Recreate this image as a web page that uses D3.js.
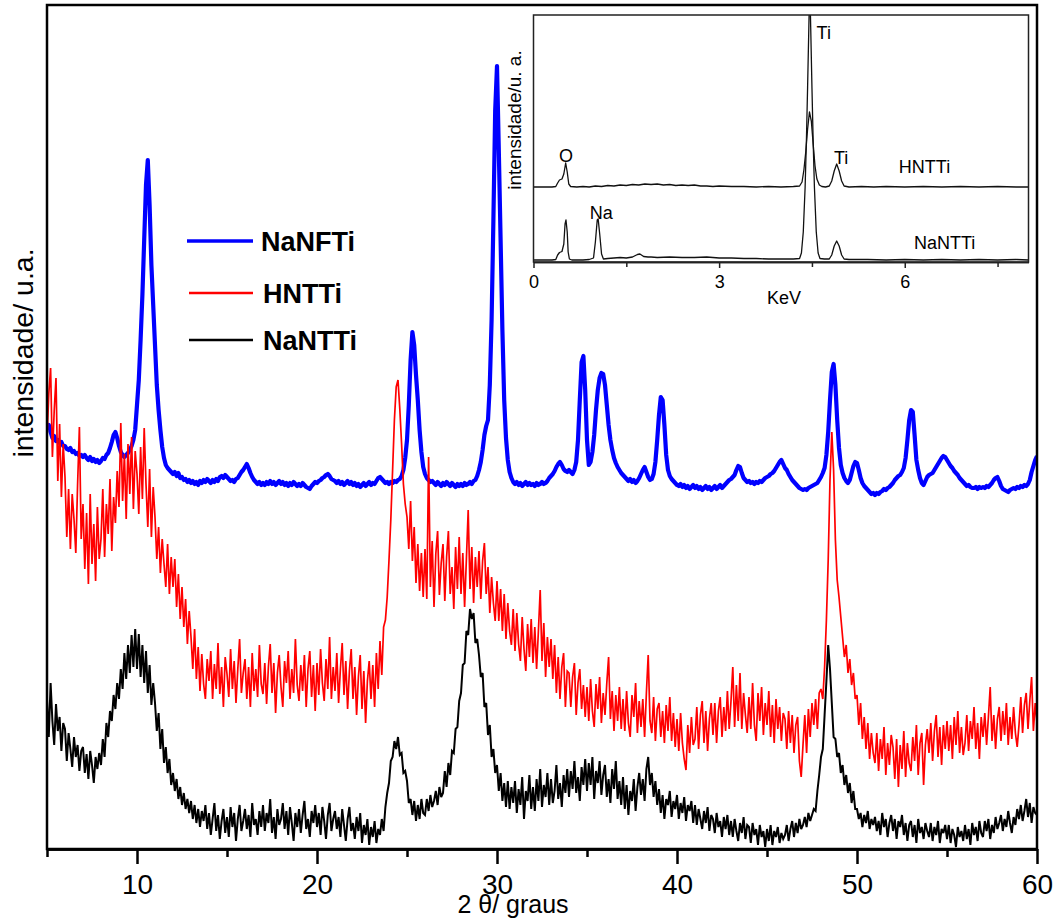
<!DOCTYPE html>
<html>
<head>
<meta charset="utf-8">
<script src="https://cdn.jsdelivr.net/npm/d3@7"></script>
<style>
  body { margin: 0; background: #fff; }
  svg { display: block; }
  text { font-family: "Liberation Sans", Arial, Helvetica, sans-serif; fill: #000; }
</style>
</head>
<body>
<svg id="chart" width="1055" height="919"></svg>
<script>
// ---------------- XRD patterns: 2θ from 5° to 60°, 0.1° step ----------------
const thetaStart = 5;
const thetaStep = 0.1;

// NaNFTi (blue), intensity in arbitrary units
const naNFTi = [
  419,424,417,411,413,408,409,406,407,403,
  403,400,399,401,397,398,395,396,393,394,
  392,394,391,389,392,388,390,387,389,386,
  388,391,390,394,396,401,407,414,417,411,
  403,397,394,392,394,396,399,403,409,419,
  444,469,509,554,609,664,689,644,584,544,
  504,464,439,419,402,391,384,381,379,377,
  375,377,373,376,371,372,369,370,367,369,
  366,368,365,367,364,368,366,369,367,370,
  368,366,369,367,370,368,372,373,371,374,
  372,370,368,369,367,370,371,374,377,379,
  382,385,381,376,372,369,367,365,367,364,
  366,364,367,365,368,365,367,364,366,368,
  365,367,364,366,363,366,364,367,365,363,
  365,363,366,364,362,361,360,363,365,367,
  366,368,369,371,372,374,375,373,370,369,
  368,366,368,365,367,364,366,368,365,367,
  364,366,363,365,362,364,366,363,365,367,
  364,366,365,368,371,372,370,368,366,367,
  365,367,366,368,367,369,370,373,379,391,
  409,444,489,517,504,474,449,419,397,382,
  375,371,369,367,368,366,364,367,365,363,
  366,364,367,365,363,366,364,362,365,363,
  365,363,366,364,365,367,365,368,369,373,
  379,387,399,414,423,429,464,529,629,739,
  783,699,609,519,449,411,389,377,371,367,
  365,367,364,366,363,365,367,364,366,364,
  365,363,366,364,365,367,365,366,368,371,
  373,375,378,382,385,387,384,380,378,377,
  379,377,375,379,387,409,449,487,493,459,
  409,384,387,397,414,439,459,471,476,475,
  464,444,424,409,399,391,386,382,379,376,
  374,372,370,368,370,367,369,366,368,371,
  375,379,382,377,372,369,370,375,387,409,
  434,452,449,424,394,379,373,370,368,366,
  364,363,365,362,364,361,363,360,362,364,
  361,363,360,362,359,361,363,360,362,359,
  361,363,360,362,364,361,363,365,367,369,
  370,372,374,379,383,382,376,371,369,367,
  368,366,367,365,367,366,368,367,369,371,
  372,373,375,376,378,381,384,387,389,385,
  381,379,375,372,369,367,365,363,361,360,
  359,360,359,361,362,363,364,365,366,369,
  372,376,381,394,417,449,477,485,464,429,
  401,384,376,371,368,366,369,376,383,387,
  386,379,371,366,363,361,359,357,355,356,
  354,356,355,357,358,360,359,361,362,364,
  366,369,371,373,374,377,381,391,409,429,
  439,437,414,389,379,371,366,364,368,372,
  374,375,376,379,382,385,388,391,393,392,
  389,386,383,381,378,376,374,371,369,367,
  365,363,364,362,361,361,362,360,362,361,
  362,361,363,362,364,366,369,371,372,368,
  363,360,359,358,357,359,360,361,360,362,
  361,363,362,364,363,365,369,377,383,389,
  393
];

// HNTTi (red)
const hNTTi = [
  410,455,481,392,438,471,368,425,352,405,
  372,312,360,300,355,330,296,365,422,310,
  345,280,336,265,355,285,325,268,342,290,
  310,360,292,345,315,370,298,352,326,378,
  342,426,348,395,330,405,355,412,340,398,
  375,335,402,350,421,365,322,380,312,362,
  332,290,322,276,310,285,262,305,255,292,
  262,290,242,275,230,262,222,250,205,238,
  212,180,220,170,202,158,195,165,150,190,
  168,198,150,185,160,206,155,182,142,192,
  175,152,200,160,188,146,180,210,156,176,
  190,150,182,142,196,158,180,152,204,165,
  155,186,145,182,205,156,186,136,176,194,
  162,142,188,166,198,150,180,156,210,164,
  148,184,158,194,142,180,198,152,184,138,
  186,154,200,166,148,190,160,212,150,182,
  158,196,146,180,206,154,188,140,178,200,
  150,182,134,172,194,140,178,126,168,188,
  150,184,142,196,160,208,174,222,229,252,
  289,329,379,429,462,469,440,405,365,345,
  332,300,348,288,322,266,305,258,296,252,
  300,250,392,262,308,242,295,318,254,286,
  305,248,292,318,255,282,240,302,260,312,
  255,296,242,290,339,260,302,246,292,262,
  298,250,288,306,255,282,236,272,246,228,
  268,228,260,218,255,210,246,218,204,240,
  198,236,205,188,232,200,178,225,192,230,
  186,222,180,218,259,188,226,172,212,182,
  210,170,204,156,192,150,182,196,142,178,
  176,142,172,186,134,166,180,140,164,132,
  162,128,170,138,122,165,140,172,126,156,
  134,166,192,130,158,118,154,128,162,120,
  150,118,158,126,112,154,132,166,116,148,
  122,150,112,156,194,128,116,152,108,140,
  146,112,138,106,144,118,152,108,136,102,
  130,98,136,106,90,79,124,96,132,104,
  110,142,100,134,148,106,138,98,130,146,
  114,146,106,138,152,112,142,118,158,120,
  148,182,122,164,128,176,120,156,134,116,
  152,120,166,124,108,156,128,162,114,146,
  124,158,112,144,106,150,120,142,108,136,
  130,100,138,106,134,96,124,132,88,72,
  104,134,96,140,112,146,124,150,120,156,
  160,150,182,229,289,369,417,379,309,269,
  252,232,212,192,204,176,190,164,176,150,
  154,124,146,110,132,100,126,90,116,96,
  86,116,78,110,90,122,74,106,84,114,
  102,70,110,62,104,80,118,72,106,86,
  78,112,88,124,74,106,116,64,104,120,
  96,126,88,118,134,92,122,84,124,100,
  128,98,124,90,132,104,138,96,122,94,
  106,134,98,128,110,142,100,126,90,132,
  112,136,104,132,162,108,134,100,130,142,
  108,138,114,146,104,132,110,142,116,102,
  124,152,116,144,156,120,148,172,118,146,
  126
];

// NaNTTi (black)
const naNTTi = [
  150,112,166,128,104,145,118,132,98,126,
  120,88,116,100,82,112,92,104,78,98,
  102,76,95,70,98,84,66,92,80,96,
  84,110,92,126,112,138,128,154,140,166,
  150,180,160,196,170,204,176,214,182,220,
  180,215,172,204,166,198,156,184,144,166,
  146,118,136,100,120,86,102,76,90,64,
  76,58,70,50,62,44,56,40,50,36,
  48,30,44,26,40,22,38,28,44,20,
  36,14,30,46,18,34,10,28,40,16,
  32,12,42,22,36,8,30,44,18,28,
  40,20,34,12,46,24,30,14,38,22,
  44,18,36,26,50,16,32,10,40,24,
  30,46,20,38,14,42,26,8,36,22,
  40,16,34,48,20,30,12,38,26,44,
  22,36,14,42,28,10,34,46,18,30,
  38,20,32,12,40,24,8,30,42,18,
  26,10,32,18,36,6,24,14,30,4,
  22,12,28,6,20,14,30,18,42,56,
  66,88,92,108,100,112,94,96,76,78,
  68,46,50,34,48,28,44,30,50,36,
  34,50,38,54,42,48,58,44,62,52,
  56,78,62,86,74,98,96,120,122,148,
  156,184,186,218,214,240,230,236,206,210,
  194,172,176,142,146,114,124,92,100,76,
  84,58,76,48,66,42,68,40,62,46,
  68,36,60,44,72,30,58,48,74,40,
  62,38,70,48,80,42,64,52,76,44,
  70,46,58,84,50,66,42,74,56,80,
  52,78,60,88,56,72,48,82,64,90,
  58,86,64,92,50,78,66,88,54,74,
  84,52,70,46,80,60,88,50,68,44,
  72,40,64,34,58,48,70,38,62,76,
  54,70,48,80,92,64,76,52,68,44,
  60,36,54,30,50,44,58,32,48,40,
  54,30,46,36,52,28,44,38,48,26,
  44,24,40,30,20,38,26,42,18,34,
  30,16,36,22,28,12,32,20,34,14,
  28,12,30,18,8,26,16,32,10,24,
  22,6,26,14,20,4,24,12,18,2,
  20,8,24,4,18,12,22,6,16,10,
  14,24,8,20,28,12,26,16,30,20,
  24,32,22,36,28,34,40,38,58,74,
  92,100,134,168,204,180,146,112,110,92,
  96,76,84,64,74,56,66,46,58,40,
  40,30,36,22,34,26,38,20,30,24,
  32,18,28,14,36,22,30,12,26,34,
  18,30,10,28,22,34,14,26,8,24,
  28,12,24,6,30,16,22,10,26,18,
  12,26,8,22,14,28,6,20,16,24,
  10,24,6,20,14,2,22,12,18,8,
  24,10,20,4,26,14,22,8,28,16,
  12,28,18,30,10,24,16,32,20,26,
  34,18,30,22,38,26,16,32,24,40,
  30,44,28,38,50,32,46,26,42,36,
  34
];

const seriesNames = ["NaNFTi", "HNTTi", "NaNTTi"];
const xMajorTicks = [10, 20, 30, 40, 50, 60];
const xMinorTicks = [5, 15, 25, 35, 45, 55];

// ---------------- EDS spectra (inset): [energy keV, counts] ----------------
const edsHNTTi = [
  [0,75],[0.1,75],[0.2,75],[0.3,75],[0.36,75.5],[0.39,79],[0.42,82],[0.46,83],
  [0.49,88],[0.52,99],[0.545,90],[0.57,78],[0.6,75.5],[0.7,75],[0.8,75.5],[0.9,75],
  [1.0,76],[1.1,75.5],[1.2,76.5],[1.3,76],[1.4,77],[1.5,76.5],[1.6,77.5],[1.7,77],
  [1.8,78],[1.9,77.5],[2.0,78],[2.1,77],[2.2,77.5],[2.3,76.5],[2.4,77],[2.5,76.5],
  [2.6,77],[2.7,76],[2.8,76],[2.9,75.5],[3.0,76],[3.2,75.5],[3.4,75.5],[3.6,75],
  [3.8,75.5],[4.0,75],[4.2,75.5],[4.3,76],[4.34,80],[4.37,92],[4.40,110],[4.43,133],
  [4.46,150],[4.49,141],[4.52,118],[4.55,96],[4.58,83],[4.62,77],[4.66,75.5],[4.72,75],
  [4.78,76],[4.82,81],[4.86,91],[4.9,98],[4.94,91],[4.98,81],[5.02,76],[5.1,75],
  [5.3,75.5],[5.5,75],[5.7,75.5],[6.0,75],[6.3,75.5],[6.6,75],[6.9,75.5],[7.2,75],
  [7.5,75.5],[7.8,75],[8.0,75]
];
const edsNaNTTi = [
  [0,2],[0.1,2],[0.2,2],[0.3,2],[0.36,2.5],[0.39,7],[0.42,9.5],[0.46,10.5],
  [0.49,18],[0.51,38],[0.525,42],[0.545,30],[0.56,10],[0.58,3],[0.62,2],[0.7,2],
  [0.8,2],[0.9,2.5],[0.97,4],[1.0,20],[1.03,42],[1.045,43],[1.07,28],[1.1,8],
  [1.13,3],[1.2,3.5],[1.3,4],[1.4,4.5],[1.5,4],[1.6,5],[1.68,7.5],[1.72,8],
  [1.78,5.5],[1.85,5],[1.9,5],[2.0,4.5],[2.2,5],[2.4,4.5],[2.6,4.5],[2.8,5],
  [3.0,4],[3.2,4],[3.4,3.5],[3.6,3.5],[3.8,3],[4.0,3],[4.2,3],[4.3,3.5],
  [4.33,9],[4.36,30],[4.39,75],[4.41,120],[4.43,175],[4.45,235],[4.465,280],[4.48,235],
  [4.50,175],[4.52,120],[4.54,75],[4.57,30],[4.60,9],[4.63,3.5],[4.7,3],[4.78,3],
  [4.82,7],[4.86,16],[4.9,21],[4.94,16],[4.98,7],[5.02,3],[5.1,2.5],[5.4,2.5],
  [5.7,2],[6.0,2.5],[6.3,2],[6.6,2.5],[6.9,2],[7.2,2.5],[7.5,2],[7.8,2.5],[8.0,2]
];
const edsMajorTicks = [0, 3, 6];
const edsMinorTicks = [1.5, 4.5, 7.5];
// peak annotations: text, energy (keV), counts, anchor
const edsPeakLabels = [
  ["O", 0.525, 107, "middle"],
  ["Na", 0.91, 50, "start"],
  ["Ti", 4.575, 230, "start"],
  ["Ti", 4.855, 105, "start"]
];
const edsSampleLabels = [
  ["HNTTi", 5.905, 96],
  ["NaNTTi", 6.15, 20]
];

// ---------------- drawing ----------------
const svg = d3.select("#chart");
const W = 1055, H = 919;
svg.append("rect").attr("width", W).attr("height", H).attr("fill", "#fff");

const plot = { left: 47, right: 1037, top: 5, bottom: 849 };
const x = d3.scaleLinear().domain([5, 60]).range([plot.left, plot.right]);
const y = d3.scaleLinear().domain([0, 844]).range([plot.bottom, plot.top]);

const defs = svg.append("defs");
defs.append("clipPath").attr("id", "plotClip").append("rect")
  .attr("x", plot.left).attr("y", plot.top)
  .attr("width", plot.right - plot.left).attr("height", plot.bottom - plot.top);

const seriesStyle = [
  { color: "#0000ff", width: 4.2 },
  { color: "#ff0000", width: 1.7 },
  { color: "#000000", width: 2.0 }
];
const seriesData = [naNFTi, hNTTi, naNTTi];

const xrdLine = d3.line()
  .x((d, i) => x(thetaStart + i * thetaStep))
  .y(d => y(d));

const gSeries = svg.append("g").attr("clip-path", "url(#plotClip)");
seriesData.forEach((vals, k) => {
  gSeries.append("path")
    .datum(vals)
    .attr("d", xrdLine)
    .attr("fill", "none")
    .attr("stroke", seriesStyle[k].color)
    .attr("stroke-width", seriesStyle[k].width)
    .attr("stroke-linejoin", k === 0 ? "round" : "miter")
    .attr("stroke-miterlimit", 3);
});

// frame
svg.append("rect")
  .attr("x", plot.left).attr("y", plot.top)
  .attr("width", plot.right - plot.left).attr("height", plot.bottom - plot.top)
  .attr("fill", "none").attr("stroke", "#000").attr("stroke-width", 2.5);

// x axis: minor then major ticks
const gMinor = svg.append("g").attr("transform", `translate(0,${plot.bottom})`)
  .call(d3.axisBottom(x).tickValues(xMinorTicks).tickSize(8).tickSizeOuter(0).tickFormat(""));
const gMajor = svg.append("g").attr("transform", `translate(0,${plot.bottom})`)
  .call(d3.axisBottom(x).tickValues(xMajorTicks).tickSize(15).tickSizeOuter(0)
    .tickPadding(10).tickFormat(d3.format("d")));
[gMinor, gMajor].forEach(g => {
  g.select(".domain").attr("stroke", "#000").attr("stroke-width", 2.5);
  g.selectAll(".tick line").attr("stroke", "#000").attr("stroke-width", 2.5);
});
gMajor.selectAll(".tick text")
  .attr("font-size", 28).attr("fill", "#000")
  .style("font-family", '"Liberation Sans", Arial, sans-serif');

// axis titles
svg.append("text")
  .attr("x", 513).attr("y", 913)
  .attr("text-anchor", "middle").attr("font-size", 25)
  .text("2 θ/ graus");
svg.append("text")
  .attr("transform", "translate(33,353) rotate(-90)")
  .attr("text-anchor", "middle").attr("font-size", 28.5)
  .text("intensidade/ u.a.");

// legend
const legend = svg.append("g").attr("transform", "translate(188,241)");
seriesNames.forEach((name, k) => {
  const gy = [0, 52, 99][k];
  const row = legend.append("g").attr("transform", `translate(0,${gy})`);
  row.append("line")
    .attr("x1", k === 0 ? -1 : 1).attr("x2", 65).attr("y1", 0).attr("y2", 0)
    .attr("stroke", seriesStyle[k].color)
    .attr("stroke-width", k === 0 ? 3.6 : 2.4);
  row.append("text")
    .attr("x", k === 0 ? 73 : 75).attr("y", 10)
    .attr("font-size", 27).attr("font-weight", "bold")
    .text(name);
});

// ---------------- inset: EDS ----------------
const inset = { left: 533.5, right: 1028.5, top: 15, bottom: 262 };
const ix = d3.scaleLinear().domain([0, 8]).range([inset.left, inset.right]);
const iy = d3.scaleLinear().domain([0, 247]).range([inset.bottom, inset.top]);

defs.append("clipPath").attr("id", "insetClip").append("rect")
  .attr("x", inset.left).attr("y", inset.top)
  .attr("width", inset.right - inset.left).attr("height", inset.bottom - inset.top);

const gInset = svg.append("g");
gInset.append("rect")
  .attr("x", inset.left).attr("y", inset.top)
  .attr("width", inset.right - inset.left).attr("height", inset.bottom - inset.top)
  .attr("fill", "#fff");

const edsLine = d3.line().x(d => ix(d[0])).y(d => iy(d[1]));
const gEds = gInset.append("g").attr("clip-path", "url(#insetClip)");
[edsHNTTi, edsNaNTTi].forEach(spec => {
  gEds.append("path")
    .datum(spec)
    .attr("d", edsLine)
    .attr("fill", "none")
    .attr("stroke", "#111")
    .attr("stroke-width", 1.3)
    .attr("stroke-linejoin", "round");
});

gInset.append("rect")
  .attr("x", inset.left).attr("y", inset.top)
  .attr("width", inset.right - inset.left).attr("height", inset.bottom - inset.top)
  .attr("fill", "none").attr("stroke", "#222").attr("stroke-width", 1.5);

const giMinor = gInset.append("g").attr("transform", `translate(0,${inset.bottom})`)
  .call(d3.axisBottom(ix).tickValues(edsMinorTicks).tickSize(5).tickSizeOuter(0).tickFormat(""));
const giMajor = gInset.append("g").attr("transform", `translate(0,${inset.bottom})`)
  .call(d3.axisBottom(ix).tickValues(edsMajorTicks).tickSize(6).tickSizeOuter(0)
    .tickPadding(7).tickFormat(d3.format("d")));
[giMinor, giMajor].forEach(g => {
  g.select(".domain").attr("stroke", "#222").attr("stroke-width", 1.5);
  g.selectAll(".tick line").attr("stroke", "#222").attr("stroke-width", 1.5);
});
giMajor.selectAll(".tick text")
  .attr("font-size", 18).attr("fill", "#000")
  .style("font-family", '"Liberation Sans", Arial, sans-serif');

gInset.append("text")
  .attr("x", 784).attr("y", 304)
  .attr("text-anchor", "middle").attr("font-size", 18)
  .text("KeV");
gInset.append("text")
  .attr("transform", "translate(521,120) rotate(-90)")
  .attr("text-anchor", "middle").attr("font-size", 19)
  .text("intensidade/u. a.");

edsPeakLabels.forEach(([t, e, c, anchor]) => {
  gInset.append("text")
    .attr("x", ix(e)).attr("y", iy(c) + 6.5)
    .attr("text-anchor", anchor).attr("font-size", 18)
    .text(t);
});
edsSampleLabels.forEach(([t, e, c]) => {
  gInset.append("text")
    .attr("x", ix(e)).attr("y", iy(c) + 6.5)
    .attr("text-anchor", "start").attr("font-size", 18)
    .text(t);
});
</script>
</body>
</html>
